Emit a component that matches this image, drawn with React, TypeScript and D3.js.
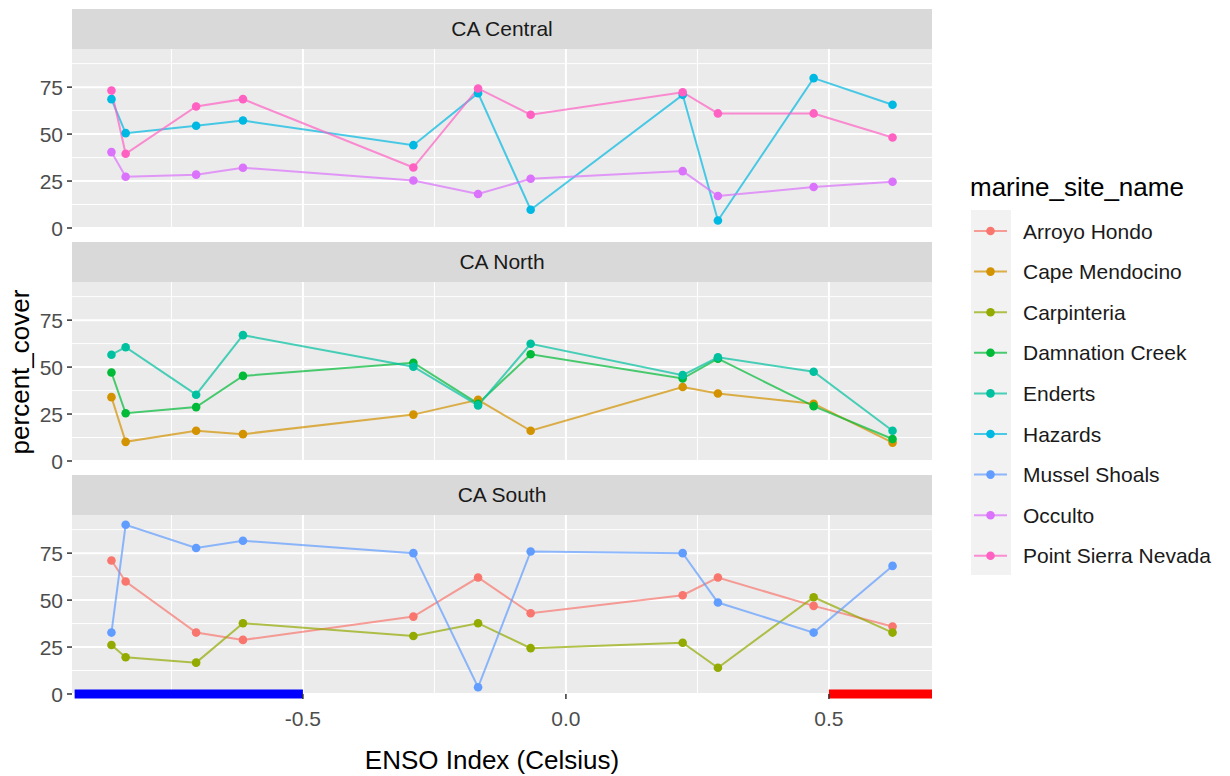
import React from 'react';
import * as d3 from 'd3';

// ENSO index for each sampled year (shared by all sites)
const ensoIndex = [-0.864, -0.837, -0.703, -0.614, -0.29, -0.167, -0.067, 0.222, 0.289, 0.471, 0.621];

const regions = ['CA Central', 'CA North', 'CA South'];

const siteNames = [
  'Arroyo Hondo', 'Cape Mendocino', 'Carpinteria', 'Damnation Creek', 'Enderts',
  'Hazards', 'Mussel Shoals', 'Occulto', 'Point Sierra Nevada',
];
const siteColors = ['#F8766D', '#D39200', '#93AA00', '#00BA38', '#00C19F', '#00B9E3', '#619CFF', '#DB72FB', '#FF61C3'];
const siteRegion = ['CA South', 'CA North', 'CA South', 'CA North', 'CA North', 'CA Central', 'CA South', 'CA Central', 'CA Central'];

// percent_cover per site, in ensoIndex order
const arroyoHondo = [71.1, 59.9, 32.7, 28.8, 41.2, 62.0, 43.0, 52.6, 62.0, 46.9, 35.9];
const capeMendocino = [34.0, 10.2, 16.1, 14.3, 24.7, 32.6, 16.1, 39.4, 35.9, 30.5, 9.8];
const carpinteria = [26.1, 19.6, 16.7, 37.7, 30.9, 37.7, 24.4, 27.3, 14.0, 51.5, 32.7];
const damnationCreek = [47.1, 25.4, 28.7, 45.3, 52.3, 30.5, 56.8, 43.9, 54.5, 29.2, 11.7];
const enderts = [56.6, 60.6, 35.3, 67.0, 50.2, 29.6, 62.4, 45.7, 55.2, 47.5, 16.1];
const hazards = [68.6, 50.5, 54.4, 57.2, 44.1, 71.8, 9.7, 70.9, 4.0, 79.8, 65.6];
const musselShoals = [32.7, 90.1, 77.7, 81.6, 75.0, 3.6, 75.9, 75.0, 48.7, 32.7, 68.2];
const occulto = [40.4, 27.3, 28.4, 32.1, 25.3, 18.1, 26.2, 30.3, 17.0, 21.8, 24.6];
const pointSierraNevada = [73.2, 39.5, 64.7, 68.6, 32.2, 74.3, 60.3, 72.3, 61.0, 61.0, 48.2];

const siteValues = [arroyoHondo, capeMendocino, carpinteria, damnationCreek, enderts, hazards, musselShoals, occulto, pointSierraNevada];

const xTicks = [-0.5, 0, 0.5];
const xMinor = [-0.75, -0.25, 0.25];
const yTicks = [0, 25, 50, 75];
const yMinor = [12.5, 37.5, 62.5, 87.5];

// La Nina / El Nino bands along the bottom of the last panel
const laNina = [-0.934, -0.5];
const elNino = [0.5, 0.696];

const font = 'Liberation Sans, Arial, sans-serif';
const small = 21;
const big = 26;

export default function App() {
  const width = 1230;
  const height = 776;
  const left = 72;
  const right = 932;
  const stripH = 40;
  const panelH = 179;
  const panelTops = [49, 282, 515];

  const x = d3.scaleLinear().domain([-0.939, 0.696]).range([left, right]);

  const line = (y: d3.ScaleLinear<number, number>) =>
    d3.line<number>().x((_, i) => x(ensoIndex[i])).y(d => y(d));

  // ggplot style labels use a plain hyphen
  const fmt = (t: number) => d3.format('.1f')(t).replace('\u2212', '-');

  return (
    <div style={{ position: 'absolute', left: 0, top: 0 }}>
      <svg width={width} height={height} style={{ display: 'block', background: '#fff' }} fontFamily={font}>
        {regions.map((region, p) => {
          const top = panelTops[p];
          const y = d3.scaleLinear().domain([0, 95.3]).range([top + panelH, top]);
          const sites = siteNames.map((n, i) => i).filter(i => siteRegion[i] === region);
          return (
            <g key={region}>
              {/* strip */}
              <rect x={left} y={top - stripH} width={right - left} height={stripH} fill="#D9D9D9" />
              <text x={(left + right) / 2} y={top - stripH / 2} dy="0.35em" textAnchor="middle" fontSize={small} fill="#1A1A1A">
                {region}
              </text>
              {/* panel */}
              <rect x={left} y={top} width={right - left} height={panelH} fill="#EBEBEB" />
              {yMinor.map(t => (
                <line key={'ym' + t} x1={left} x2={right} y1={y(t)} y2={y(t)} stroke="#fff" strokeWidth={1} />
              ))}
              {xMinor.map(t => (
                <line key={'xm' + t} x1={x(t)} x2={x(t)} y1={top} y2={top + panelH} stroke="#fff" strokeWidth={1} />
              ))}
              {yTicks.map(t => (
                <line key={'yM' + t} x1={left} x2={right} y1={y(t)} y2={y(t)} stroke="#fff" strokeWidth={2} />
              ))}
              {xTicks.map(t => (
                <line key={'xM' + t} x1={x(t)} x2={x(t)} y1={top} y2={top + panelH} stroke="#fff" strokeWidth={2} />
              ))}
              {/* y axis */}
              {yTicks.map(t => (
                <g key={'yt' + t}>
                  <line x1={left - 5} x2={left} y1={y(t)} y2={y(t)} stroke="#333" strokeWidth={1.5} />
                  <text x={left - 9} y={y(t)} dy="0.36em" textAnchor="end" fontSize={small} fill="#4D4D4D">
                    {t}
                  </text>
                </g>
              ))}
              {/* lines */}
              {sites.map(i => (
                <path key={'l' + i} d={line(y)(siteValues[i]) || ''} fill="none" stroke={siteColors[i]} strokeWidth={2} strokeOpacity={0.7} />
              ))}
              {/* points */}
              {sites.map(i => (
                <g key={'p' + i}>
                  {siteValues[i].map((v, j) => (
                    <circle key={j} cx={x(ensoIndex[j])} cy={y(v)} r={4.3} fill={siteColors[i]} />
                  ))}
                </g>
              ))}
              {p === regions.length - 1 && (
                <g>
                  <line x1={x(laNina[0])} x2={x(laNina[1])} y1={y(0)} y2={y(0)} stroke="#0000FF" strokeWidth={9} />
                  <line x1={x(elNino[0])} x2={x(elNino[1])} y1={y(0)} y2={y(0)} stroke="#FF0000" strokeWidth={9} />
                </g>
              )}
            </g>
          );
        })}

        {/* x axis */}
        {xTicks.map(t => (
          <g key={'xt' + t}>
            <line x1={x(t)} x2={x(t)} y1={panelTops[2] + panelH} y2={panelTops[2] + panelH + 5} stroke="#333" strokeWidth={1.5} />
            <text x={x(t)} y={718} dy="0.36em" textAnchor="middle" fontSize={small} fill="#4D4D4D">
              {fmt(t)}
            </text>
          </g>
        ))}
        <text x={492} y={760} dy="0.36em" textAnchor="middle" fontSize={big} fill="#000">
          ENSO Index (Celsius)
        </text>
        <text transform="translate(20,372) rotate(-90)" dy="0.36em" textAnchor="middle" fontSize={big} fill="#000">
          percent_cover
        </text>

        {/* legend */}
        <text x={970} y={187} dy="0.36em" fontSize={big} fill="#000">
          marine_site_name
        </text>
        <rect x={971} y={210} width={40} height={365} fill="#F2F2F2" />
        {siteNames.map((name, i) => {
          const cy = 231 + i * 40.6;
          return (
            <g key={name}>
              <line x1={974} x2={1007} y1={cy} y2={cy} stroke={siteColors[i]} strokeWidth={2} strokeOpacity={0.7} />
              <circle cx={990.5} cy={cy} r={4.3} fill={siteColors[i]} />
              <text x={1023} y={cy} dy="0.36em" fontSize={small} fill="#1A1A1A">
                {name}
              </text>
            </g>
          );
        })}
      </svg>
    </div>
  );
}
